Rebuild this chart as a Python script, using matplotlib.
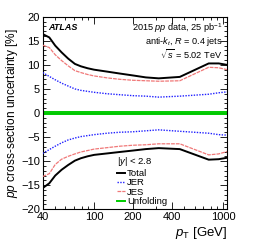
import matplotlib
matplotlib.use("Agg")
import matplotlib.pyplot as plt
from matplotlib.ticker import FixedLocator, FixedFormatter, MultipleLocator, NullFormatter

plt.rcParams["font.family"] = ["Liberation Sans", "DejaVu Sans"]
plt.rcParams["mathtext.fontset"] = "custom"
plt.rcParams["mathtext.rm"] = "Liberation Sans"
plt.rcParams["mathtext.it"] = "Liberation Sans:italic"
plt.rcParams["mathtext.bf"] = "Liberation Sans:bold"

# pT points [GeV] and uncertainties [%]
pt = [40, 45, 50, 56, 63, 71, 79, 89, 100, 126, 158, 200, 251, 316, 460, 770, 920, 1070]
total_up = [16.4, 15.7, 14.0, 12.6, 11.3, 10.2, 9.7, 9.3, 9.0, 8.6, 8.2, 7.8, 7.4, 7.2, 7.5, 10.3, 10.3, 10.0]
total_dn = [-15.6, -14.6, -13.0, -11.8, -10.8, -9.9, -9.4, -9.0, -8.7, -8.4, -8.1, -7.8, -7.5, -7.3, -7.5, -9.7, -9.6, -9.3]
jes_up = [14.1, 13.6, 12.1, 10.9, 9.8, 8.8, 8.4, 8.0, 7.7, 7.3, 7.0, 6.8, 6.7, 6.6, 6.7, 9.5, 9.4, 9.0]
jes_dn = [-13.2, -12.6, -10.7, -9.6, -9.0, -8.5, -8.1, -7.8, -7.5, -7.2, -6.9, -6.7, -6.6, -6.4, -6.4, -8.7, -8.5, -8.0]
jer_up = [8.4, 7.6, 6.9, 6.2, 5.6, 5.0, 4.7, 4.5, 4.3, 4.0, 3.8, 3.6, 3.5, 3.3, 3.5, 3.9, 4.2, 4.4]
jer_dn = [-8.4, -7.6, -6.9, -6.2, -5.6, -5.2, -4.9, -4.7, -4.5, -4.2, -4.0, -3.9, -3.7, -3.5, -3.8, -4.2, -4.5, -4.6]
unf_up = [0.25] * len(pt)
unf_dn = [-0.25] * len(pt)

x_ticks = [40, 100, 200, 400, 1000]

fig = plt.figure(figsize=(2.58, 2.50), dpi=100)
ax = fig.add_axes([0.1655, 0.163, 0.715, 0.770])

ax.axhline(0, color="black", lw=1.0, zorder=1)
ax.plot(pt, unf_up, color="#00cc00", lw=1.4, label="Unfolding", zorder=2)
ax.plot(pt, unf_dn, color="#00cc00", lw=1.4, zorder=2)
ax.plot(pt, jes_up, color="#f07878", lw=0.9, ls=(0, (3, 0.8)), label="JES", zorder=3)
ax.plot(pt, jes_dn, color="#f07878", lw=0.9, ls=(0, (3, 0.8)), zorder=3)
ax.plot(pt, jer_up, color="#2020ff", lw=1.0, ls=(0, (1, 1)), label="JER", zorder=3)
ax.plot(pt, jer_dn, color="#2020ff", lw=1.0, ls=(0, (1, 1)), zorder=3)
ax.plot(pt, total_up, color="black", lw=1.4, label="Total", zorder=4)
ax.plot(pt, total_dn, color="black", lw=1.4, zorder=4)

ax.set_xscale("log")
ax.set_xlim(40, 1070)
ax.set_ylim(-20, 20)
ax.xaxis.set_major_locator(FixedLocator(x_ticks))
ax.xaxis.set_major_formatter(FixedFormatter([str(v) for v in x_ticks]))
ax.xaxis.set_minor_formatter(NullFormatter())
ax.yaxis.set_major_locator(MultipleLocator(5))
ax.yaxis.set_minor_locator(MultipleLocator(1))
ax.yaxis.set_major_formatter(matplotlib.ticker.FuncFormatter(lambda v, p: f"{v:.0f}".replace("-", "\u2212")))
ax.tick_params(which="both", direction="in", top=True, right=True, labelsize=8, pad=2, width=0.6)
ax.tick_params(which="major", length=5)
ax.tick_params(which="minor", length=2.5)
for s in ax.spines.values():
    s.set_linewidth(0.8)

ax.set_ylabel("$pp$ cross-section uncertainty [%]", fontsize=8.6, labelpad=1)
ax.set_xlabel(r"$p_{\rm T}$ [GeV]", fontsize=9.5, loc="right", labelpad=2)

ax.text(0.03, 0.965, "ATLAS", transform=ax.transAxes, fontsize=6.5, fontweight="bold",
        fontstyle="italic", va="top", ha="left")
ax.text(0.975, 0.975, "2015 $pp$ data, 25 pb$^{-1}$", transform=ax.transAxes, fontsize=6.6,
        va="top", ha="right")
ax.text(0.975, 0.905, "anti-$k_t$, $R$ = 0.4 jets", transform=ax.transAxes, fontsize=6.6,
        va="top", ha="right")
ax.text(0.975, 0.84, r"$\sqrt{s}$ = 5.02 TeV", transform=ax.transAxes, fontsize=6.6,
        va="top", ha="right")

handles, labels = ax.get_legend_handles_labels()
order = [labels.index(n) for n in ("Total", "JER", "JES", "Unfolding")]
leg = ax.legend([handles[i] for i in order], [labels[i] for i in order],
                title="$|y|$ < 2.8", loc="upper left", bbox_to_anchor=(0.405, 0.28),
                frameon=False, fontsize=6.8, title_fontsize=6.8, handlelength=0.8,
                handletextpad=0.2, labelspacing=0.05, borderaxespad=0, borderpad=0)
leg._legend_box.align = "left"

fig.savefig("out.png", dpi=100)
